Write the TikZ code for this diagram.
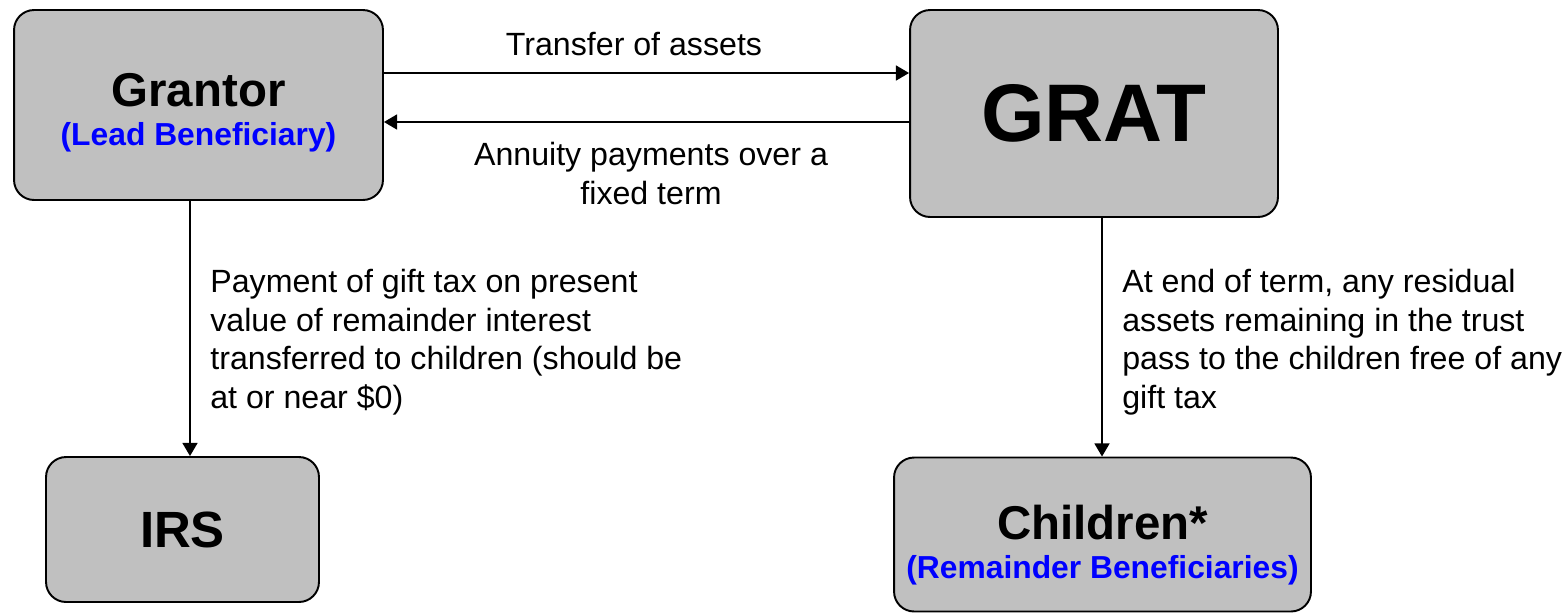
\documentclass[tikz,border=0pt]{standalone}
\usepackage{fontspec}
\setmainfont{Liberation Sans}
\usetikzlibrary{arrows.meta}
\definecolor{boxgray}{RGB}{192,192,192}

\begin{document}
\begin{tikzpicture}[
	x=0.02cm, y=-0.02cm,
	party/.style={
		rectangle,
		rounded corners=0.4cm,
		draw=black,
		line width=1.1pt,
		fill=boxgray,
		align=center,
		inner sep=0pt
	},
	edge/.style={-{Triangle[length=7.5pt,width=8.5pt]}, line width=1.1pt},
	note/.style={font=\fontsize{18.3}{21.9}\selectfont, inner sep=0pt}
]
\useasboundingbox (0,0) rectangle (1568,613);

% Parties
\node[party, minimum width=7.38cm, minimum height=3.8cm] (grantor) at (198.5,105)
	{\rule{0pt}{28pt}\fontsize{27}{30}\selectfont\bfseries Grantor\\[8pt]
	 {\fontsize{18.1}{20}\selectfont\bfseries\color{blue}(Lead Beneficiary)}};
\node[party, minimum width=7.36cm, minimum height=4.14cm,
	font=\fontsize{46.5}{50}\selectfont\bfseries] (grat) at (1094,113.5) {GRAT};
\node[party, minimum width=5.46cm, minimum height=2.9cm,
	font=\fontsize{29}{32}\selectfont\bfseries] (irs) at (182.5,529.5) {IRS};
\node[party, minimum width=8.34cm, minimum height=3.08cm] (children) at (1102.5,534.5)
	{\rule{0pt}{32pt}\fontsize{27}{30}\selectfont\bfseries Children*\\[8pt]
	 {\fontsize{18.1}{20}\selectfont\bfseries\color{blue}(Remainder Beneficiaries)}};

% Flows between grantor and trust
\draw[edge] (grantor.east |- 0,73) -- (grat.west |- 0,73);
\draw[edge] (grat.west |- 0,122) -- (grantor.east |- 0,122);
\node[note, anchor=base] (transfer) at (634,55) {Transfer of assets};
\node[note, anchor=north, align=center] (annuity) at (651,142)
	{Annuity payments over a\\fixed term};

% Flows downwards
\draw[edge] (grantor.south -| 190,0) -- (irs.north -| 190,0);
\draw[edge] (grat.south -| 1102,0) -- (children.north -| 1102,0);
\node[note, anchor=north west, align=left] (gifttax) at (210,269)
	{Payment of gift tax on present\\value of remainder interest\\transferred to children (should be\\at or near \$0)};
\node[note, anchor=north west, align=left] (residual) at (1122,269)
	{At end of term, any residual\\assets remaining in the trust\\pass to the children free of any\\gift tax};

\end{tikzpicture}
\end{document}
